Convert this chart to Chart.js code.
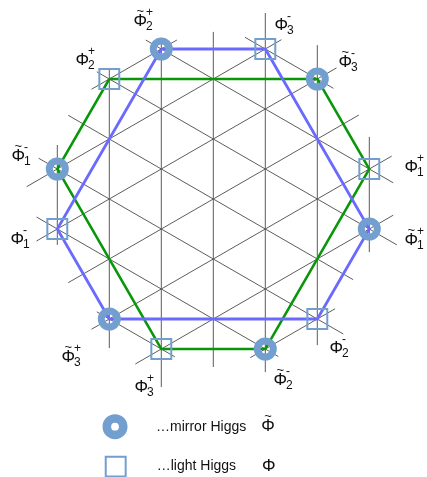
<!DOCTYPE html>
<html><head><meta charset="utf-8">
<script src="https://cdn.jsdelivr.net/npm/chart.js@4/dist/chart.umd.min.js"></script>
<style>html,body{margin:0;padding:0;background:#fff}canvas{display:block}</style>
</head><body>
<canvas id="c" width="427" height="477"></canvas>
<script>
/* Higgs hexagons on a triangular lattice.
   units: x = lattice column, y = half row (vertical node spacing = 2) */

// mirror Higgs (rings)
const mirrorX=[-1,2,3,1,-2,-3];
const mirrorY=[5,4,-1,-5,-4,1];
const mirrorSub=['2','3','1','2','3','1'];
const mirrorSup=['+','-','+','-','+','-'];
// light Higgs (squares)
const lightX=[1,3,2,-1,-3,-2];
const lightY=[5,1,-4,-5,-1,4];
const lightSub=['3','1','2','3','1','2'];
const lightSup=['-','+','-','+','-','+'];

// the two hexagons (closed)
const blueX=[-1,1,3,2,-2,-3,-1];
const blueY=[5,5,-1,-4,-4,-1,5];
const greenX=[-2,2,3,1,-1,-3,-2];
const greenY=[4,4,1,-5,-5,1,4];

// lattice: vertical lines
const vertX=[-3,-2,-1,0,1,2,3];
const vertTop=[1.8,4.3,5.37,5.57,6.2,5.13,2.07];
const vertBot=[-1.53,-4.97,-6.27,-5.6,-5.77,-4.87,-1.77];
// lattice: rising diagonals  [x1,y1,x2,y2]
const riseSeg=[
  [-2.34,3.66,-0.7,5.3],[-3.59,0.41,1.31,5.31],[-3.4,-1.4,2.37,4.37],
  [-2.79,-2.79,2.8,2.8],[-2.34,-4.34,3.43,1.43],[-1.5,-5.5,3.46,-0.54],
  [0.71,-5.29,2.34,-3.66]];
// lattice: falling diagonals
const fallSeg=[
  [0.61,5.39,2.31,3.69],[-1.3,5.3,3.46,0.54],[-2.24,4.24,3.53,-1.53],
  [-2.79,2.79,2.69,-2.69],[-3.36,1.36,2.5,-4.5],[-3.4,-0.6,1.25,-5.25],
  [-2.24,-3.76,-0.74,-5.26]];

// legend markers
const legendX=[-1.89,-1.877];
const legendY=[-7.59,-8.92];
const legendText=['\u2026mirror Higgs','\u2026light Higgs'];

// label offsets from the node, px
const mirrorOff=[[-21,-28],[28,-17],[42,11],[15,31],[-41,38],[-39,-13]];
const lightOff=[[16,-24],[42,-2],[19,29],[-20,38],[-40,10],[-27,-19]];

const RING='#729fcf', BLUE='#6a6aff', GREEN='#0a960a', GRID='#5c5c5c';
const FONT='"Liberation Sans", Arial, sans-serif';

const pts=(xs,ys)=>xs.map((x,i)=>({x,y:ys[i]}));
const seg=s=>[{x:s[0],y:s[1]},{x:s[2],y:s[3]}];
const gridDs=data=>({data,showLine:true,borderColor:GRID,borderWidth:1,pointRadius:0,order:3});

const datasets=[];
vertX.forEach((x,i)=>datasets.push(gridDs([{x,y:vertBot[i]},{x,y:vertTop[i]}])));
riseSeg.forEach(s=>datasets.push(gridDs(seg(s))));
fallSeg.forEach(s=>datasets.push(gridDs(seg(s))));
datasets.push({data:pts(blueX,blueY),showLine:true,borderColor:BLUE,borderWidth:2.8,pointRadius:0,order:2});
datasets.push({data:pts(greenX,greenY),showLine:true,borderColor:GREEN,borderWidth:2.5,pointRadius:0,order:2});
datasets.push({data:pts(mirrorX,mirrorY),pointStyle:'circle',pointRadius:8,pointBorderWidth:7,
  pointBorderColor:RING,pointBackgroundColor:'rgba(0,0,0,0)',order:1});
datasets.push({data:pts(lightX,lightY),pointStyle:'rect',pointRadius:14.1,pointBorderWidth:2,
  pointBorderColor:RING,pointBackgroundColor:'rgba(0,0,0,0)',order:1});
datasets.push({data:[{x:legendX[0],y:legendY[0]}],pointStyle:'circle',pointRadius:8.2,pointBorderWidth:8.6,
  pointBorderColor:RING,pointBackgroundColor:'rgba(0,0,0,0)',order:1});
datasets.push({data:[{x:legendX[1],y:legendY[1]}],pointStyle:'rect',pointRadius:14.1,pointBorderWidth:2,
  pointBorderColor:RING,pointBackgroundColor:'rgba(0,0,0,0)',order:1});

function phi(ctx,px,py,tilde,sub,sup){
  ctx.font='17px '+FONT; ctx.textAlign='center'; ctx.textBaseline='middle';
  ctx.fillText('\u03a6',px,py);
  const w=ctx.measureText('\u03a6').width;
  if(tilde){ ctx.font='13px '+FONT; ctx.fillText('~',px,py-10); }
  ctx.font='12px '+FONT; ctx.textAlign='left';
  if(sup) ctx.fillText(sup,px+w/2-1,py-8);
  if(sub) ctx.fillText(sub,px+w/2-1,py+6);
}

const labels={id:'higgsLabels',afterDatasetsDraw(chart){
  const {ctx,scales:{x,y}}=chart;
  ctx.save(); ctx.fillStyle='#111';
  mirrorX.forEach((v,i)=>phi(ctx,x.getPixelForValue(v)+mirrorOff[i][0],
    y.getPixelForValue(mirrorY[i])+mirrorOff[i][1],true,mirrorSub[i],mirrorSup[i]));
  lightX.forEach((v,i)=>phi(ctx,x.getPixelForValue(v)+lightOff[i][0],
    y.getPixelForValue(lightY[i])+lightOff[i][1],false,lightSub[i],lightSup[i]));
  legendX.forEach((v,i)=>{
    const px=x.getPixelForValue(v), py=y.getPixelForValue(legendY[i]);
    ctx.font='14px '+FONT; ctx.textAlign='left'; ctx.textBaseline='middle';
    ctx.fillText(legendText[i],px+41,py);
    phi(ctx,px+153,py,i===0,'','');
  });
  ctx.restore();
}};

new Chart(document.getElementById('c'),{
  type:'scatter',
  data:{datasets},
  options:{
    responsive:false,animation:false,
    layout:{padding:0,autoPadding:false},
    elements:{line:{tension:0}},
    plugins:{legend:{display:false},tooltip:{enabled:false}},
    scales:{
      x:{type:'linear',display:false,min:-213.3/52,max:(427-213.3)/52},
      y:{type:'linear',display:false,min:(199-477)/30,max:199/30}
    }
  },
  plugins:[labels]
});
</script>
</body></html>
